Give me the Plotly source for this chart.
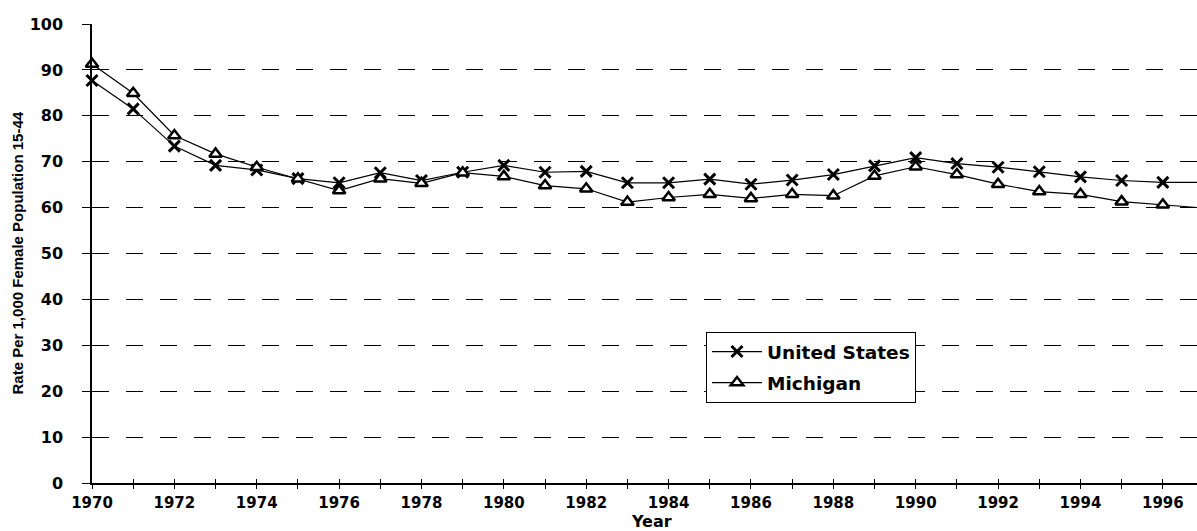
import plotly.graph_objects as go

years = list(range(1970, 1998))
us_rate = [87.7, 81.5, 73.4, 69.2, 68.2, 66.3, 65.4, 67.6, 65.9, 67.7,
           69.2, 67.7, 67.9, 65.4, 65.4, 66.2, 65.1, 66.0, 67.2, 69.1,
           70.9, 69.6, 68.8, 67.8, 66.7, 65.9, 65.5, 65.5]
mi_rate = [91.3, 84.9, 75.7, 71.7, 68.8, 66.3, 63.7, 66.3, 65.3, 67.6,
           66.8, 64.8, 64.1, 61.2, 62.2, 62.9, 62.0, 62.9, 62.6, 66.9,
           68.9, 67.2, 65.1, 63.5, 62.9, 61.3, 60.6, 59.9]
y_ticks = list(range(0, 101, 10))

XTICKFONT = dict(family="DejaVu Sans", size=15, color="black", weight="bold")
YTICKFONT = dict(family="DejaVu Sans", size=16, color="black", weight="bold")

fig = go.Figure()
fig.add_trace(go.Scatter(
    x=years, y=us_rate, name="United States", mode="lines+markers",
    legendgroup="us", cliponaxis=False,
    line=dict(color="black", width=1.2),
    marker=dict(symbol="x-thin", size=11, color="black",
                line=dict(color="black", width=3)),
))
fig.add_trace(go.Scatter(
    x=years, y=mi_rate, name="Michigan", mode="lines+markers",
    legendgroup="mi", cliponaxis=False,
    line=dict(color="black", width=1.2),
    marker=dict(symbol="triangle-up", size=11, color="white",
                line=dict(color="black", width=2.5)),
))
# helper trace for the inner half of the crossing tick marks
fig.add_trace(go.Scatter(x=[None], y=[None], xaxis="x2", yaxis="y2",
                         showlegend=False, hoverinfo="skip"))

fig.update_layout(
    width=1197, height=531,
    margin=dict(l=92, r=0, t=24, b=48),
    paper_bgcolor="white", plot_bgcolor="white",
    showlegend=True,
    legend=dict(x=(706 - 92) / 1105, y=(483 - 332) / 459,
                xanchor="left", yanchor="top",
                bordercolor="black", borderwidth=1, bgcolor="white",
                font=dict(family="DejaVu Sans", size=18.5, color="black", weight="bold"),
                itemwidth=50, tracegroupgap=4, traceorder="grouped"),
    xaxis=dict(range=[1970, 1996.83], tickmode="linear", tick0=1970, dtick=1,
               ticklabelstep=2, ticks="outside", ticklen=4, tickwidth=1,
               tickcolor="black", showline=True, linecolor="black", linewidth=1.5,
               showgrid=False, zeroline=False, tickfont=XTICKFONT,
               ticklabelstandoff=1),
    xaxis2=dict(range=[1970, 1996.83], overlaying="x", anchor="y2",
                tickmode="linear", tick0=1970, dtick=1, ticks="inside",
                ticklen=4, tickwidth=1, tickcolor="black",
                showticklabels=False, showline=False, showgrid=False,
                zeroline=False),
    yaxis=dict(range=[0, 100], tickmode="array", tickvals=y_ticks,
               ticks="outside", ticklen=8, tickwidth=1.3, tickcolor="black",
               showline=True, linecolor="black", linewidth=1.5,
               showgrid=True, gridcolor="black", gridwidth=1.3,
               griddash="17px,17px", zeroline=False, tickfont=YTICKFONT,
               ticklabelstandoff=16),
    yaxis2=dict(range=[0, 100], overlaying="y", anchor="x2",
                tickmode="array", tickvals=y_ticks, ticks="inside",
                ticklen=17, tickwidth=1.3, tickcolor="black",
                showticklabels=False, showline=False, showgrid=False,
                zeroline=False),
    annotations=[
        dict(text="Rate Per 1,000 Female Population 15-44", textangle=-90,
             xref="paper", yref="paper", x=(17 - 92) / 1105, y=0.5,
             xanchor="center", yanchor="middle", showarrow=False,
             font=dict(family="Arial", size=15, color="black", weight="bold")),
        dict(text="Year", xref="paper", yref="paper",
             x=(651 - 92) / 1105, y=(483 - 521) / 459,
             xanchor="center", yanchor="middle", showarrow=False,
             font=dict(family="DejaVu Sans", size=16, color="black", weight="bold")),
    ],
)

fig.write_html("out.html", config={"displayModeBar": False},
               post_script="document.body.style.margin='0';")
